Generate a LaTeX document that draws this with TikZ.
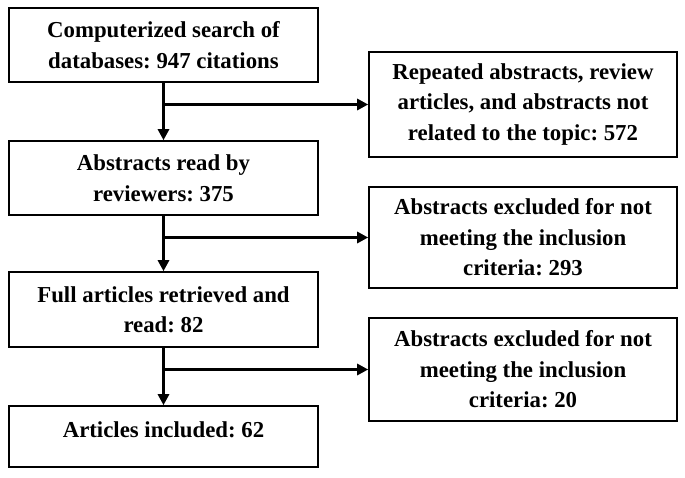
\documentclass[tikz,border=0pt]{standalone}
\usepackage{fontspec}
\setmainfont{Liberation Serif}
\frenchspacing
\usetikzlibrary{arrows.meta}
\begin{document}
\begin{tikzpicture}[x=1pt,y=-1pt,
  box/.style={draw=black,line width=1.6pt,minimum width=309pt,align=center,inner sep=0pt,
    font=\fontsize{22.8}{30.5}\selectfont\bfseries\frenchspacing},
  flow/.style={line width=3pt,-{Triangle[length=11pt,width=11pt]}}]
\useasboundingbox (0,0) rectangle (685,477);
\node[box,minimum height=74pt] (b1) at (163.5,45) {Computerized search of\\databases: 947 citations};
\node[box,minimum height=74pt] (b2) at (163.5,178) {Abstracts read by\\reviewers: 375};
\node[box,minimum height=75pt] (b3) at (163.5,309.5) {Full articles retrieved and\\read: 82};
\node[box,minimum height=61pt,text height=14pt,text depth=12pt] (b4) at (163.5,436.5) {Articles included: 62};
\node[box,minimum width=308pt,minimum height=105pt] (r1) at (523,104.5) {Repeated abstracts, review\\articles, and abstracts not\\related to the topic: 572};
\node[box,minimum width=308pt,minimum height=101pt] (r2) at (523,237.5) {Abstracts excluded for not\\meeting the inclusion\\criteria: 293};
\node[box,minimum width=308pt,minimum height=103pt] (r3) at (523,369.5) {Abstracts excluded for not\\meeting the inclusion\\criteria: 20};
\draw[flow] (b1) -- (b2);
\draw[flow] (b2) -- (b3);
\draw[flow] (b3) -- (b4);
\coordinate (j1) at (b1.south |- r1.west);
\coordinate (j2) at (b2.south |- r2.west);
\coordinate (j3) at (b3.south |- r3.west);
\draw[flow] ([xshift=-1.5pt]j1) -- (r1.west);
\draw[flow] ([xshift=-1.5pt]j2) -- (r2.west);
\draw[flow] ([xshift=-1.5pt]j3) -- (r3.west);
\end{tikzpicture}
\end{document}
